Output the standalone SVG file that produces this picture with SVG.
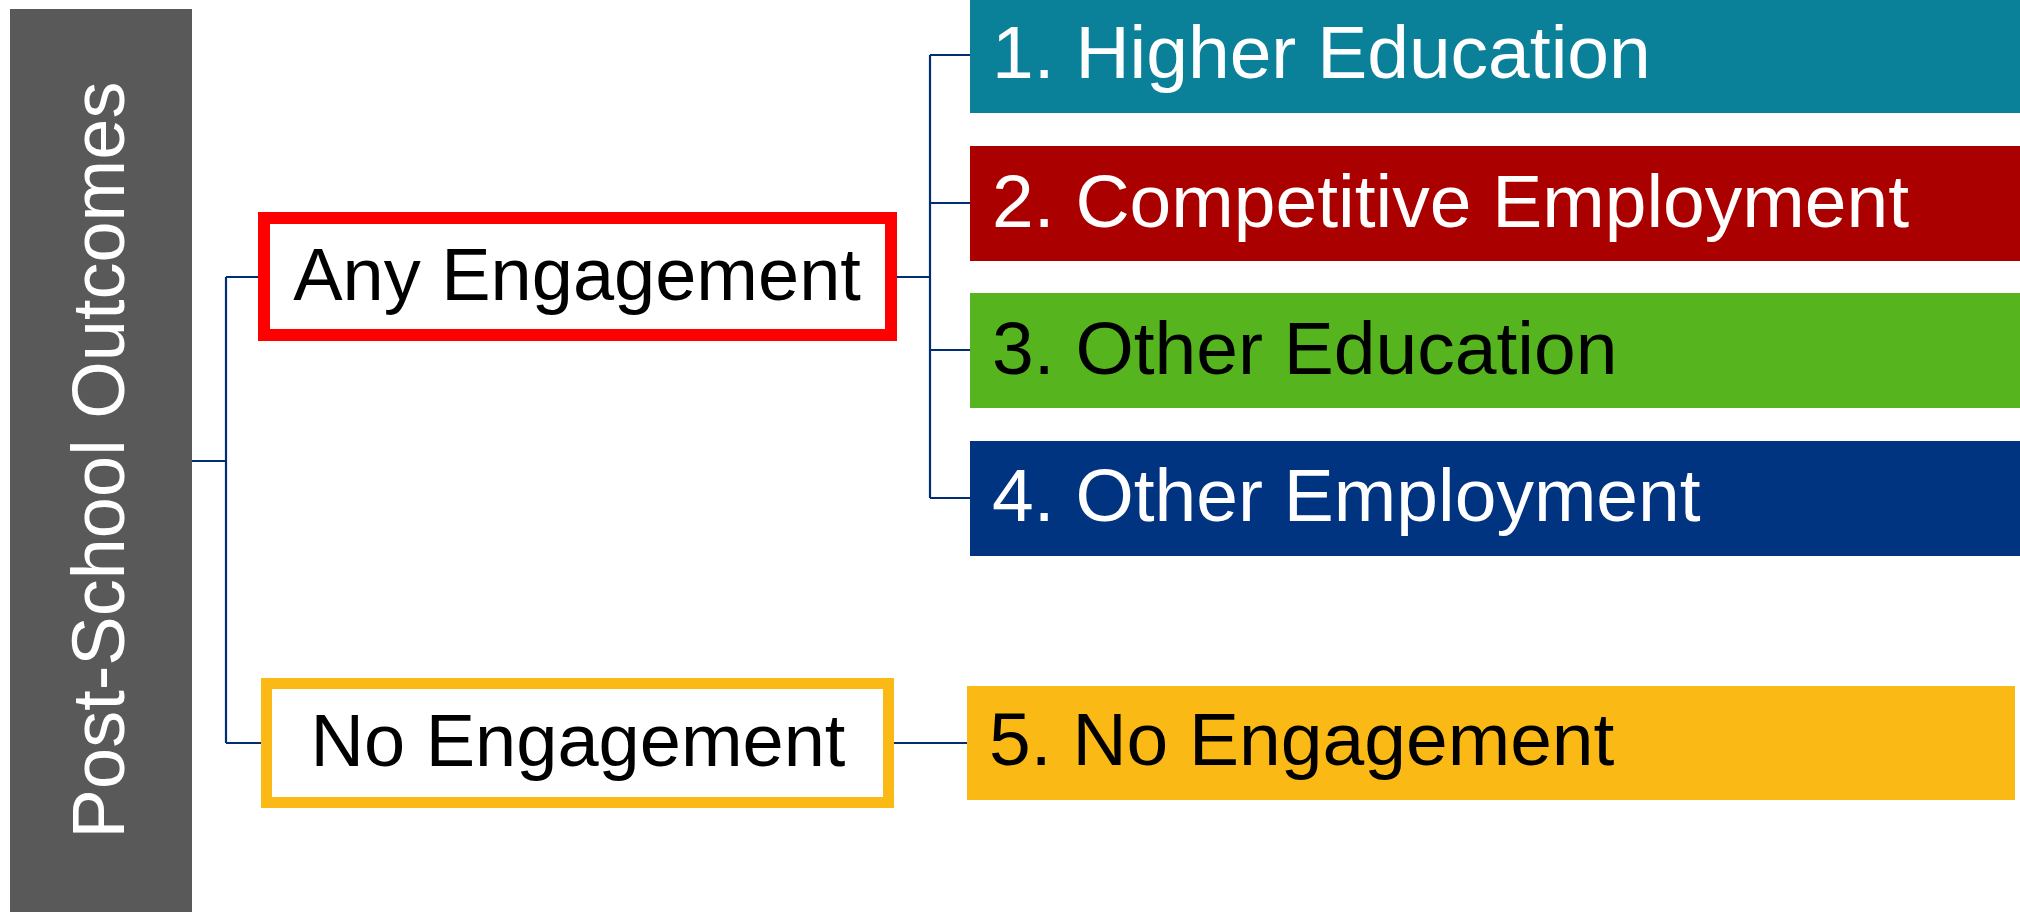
<svg xmlns="http://www.w3.org/2000/svg" width="2020" height="912" viewBox="0 0 2020 912">
<style>
text { font-family: "Liberation Sans", Arial, sans-serif; font-size: 74px; }
.out { font-size: 75px; }
.w { fill: #ffffff; }
.k { fill: #000000; }
.mid { text-anchor: middle; }
.conn { fill: none; stroke: #002D74; stroke-width: 2.2; }
</style>
<rect width="2020" height="912" fill="#ffffff"/>
<g id="root">
  <rect x="10" y="9" width="182" height="903" fill="#595959"/>
  <text class="w mid" transform="translate(124,460) rotate(-90)">Post-School Outcomes</text>
</g>
<g id="connectors">
  <path class="conn" d="M192,461 H226 M226,277 V743 M226,277 H258 M226,743 H261"/>
  <path class="conn" d="M897,277 H930 M930,55 V498 M930,55 H970 M930,203 H970 M930,350 H970 M930,498 H970"/>
  <path class="conn" d="M894,743 H967"/>
</g>
<g id="any-engagement">
  <rect x="264" y="218" width="627" height="117" fill="#ffffff" stroke="#FF0000" stroke-width="12"/>
  <text class="k mid" x="577" y="300">Any Engagement</text>
</g>
<g id="no-engagement">
  <rect x="266.5" y="683.5" width="622" height="119" fill="#ffffff" stroke="#FBB915" stroke-width="11"/>
  <text class="k mid" x="578" y="766">No Engagement</text>
</g>
<g id="out1">
  <rect x="970" y="0" width="1050" height="113" fill="#0B8199"/>
  <text class="w out" x="992" y="78">1. Higher Education</text>
</g>
<g id="out2">
  <rect x="970" y="146" width="1050" height="115" fill="#AA0000"/>
  <text class="w out" x="992" y="227">2. Competitive Employment</text>
</g>
<g id="out3">
  <rect x="970" y="293" width="1050" height="115" fill="#56B41E"/>
  <text class="k out" x="992" y="374">3. Other Education</text>
</g>
<g id="out4">
  <rect x="970" y="441" width="1050" height="115" fill="#003380"/>
  <text class="w out" x="992" y="521">4. Other Employment</text>
</g>
<g id="out5">
  <rect x="967" y="686" width="1048" height="114" fill="#FBB915"/>
  <text class="k out" x="989" y="765">5. No Engagement</text>
</g>
</svg>
